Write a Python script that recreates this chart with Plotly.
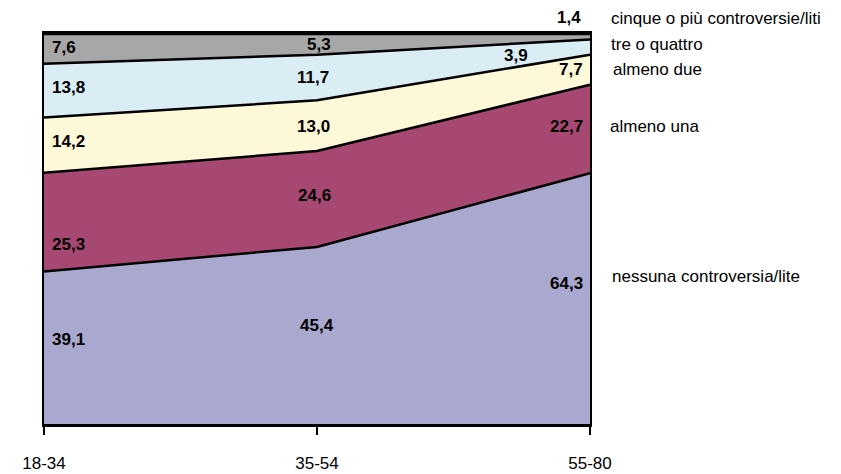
import plotly.graph_objects as go
import numpy as np

# Age groups and share of respondents (%) by number of disputes
age_groups = ["18-34", "35-54", "55-80"]
series_names = [
    "nessuna controversia/lite",
    "almeno una",
    "almeno due",
    "tre o quattro",
    "cinque o più controversie/liti",
]
nessuna = [39.1, 45.4, 64.3]
almeno_una = [25.3, 24.6, 22.7]
almeno_due = [14.2, 13.0, 7.7]
tre_quattro = [13.8, 11.7, 3.9]
cinque_piu = [7.6, 5.3, 1.4]

series_values = [nessuna, almeno_una, almeno_due, tre_quattro, cinque_piu]
fill_colors = ["#A9A9CF", "#A74872", "#FDF8D8", "#DAEDF4", "#A7A7A7"]

FONT = "Liberation Sans, Arial, sans-serif"
FS = 17

fig = go.Figure()
for name, vals, col in zip(series_names, series_values, fill_colors):
    fig.add_trace(go.Scatter(
        x=age_groups, y=vals, name=name, mode="lines",
        stackgroup="one", fillcolor=col,
        line=dict(color="black", width=2.5),
        hoverinfo="skip",
    ))

# value labels placed at the middle of each band
cum = np.zeros(len(age_groups))
label_shift = [  # (xshift, yshift) per series per group
    [(6, 8), (0, 10), (-5, 15)],
    [(6, -22), (-3, 3), (-5, 2)],
    [(6, 4), (-4, -1), (-5, 0)],
    [(6, 3), (-4, 0), (-60, -8)],
    [(6, 1), (2, 0), (-7, 19)],
]
anchors = ["left", "center", "right"]
for si, vals in enumerate(series_values):
    for gi, v in enumerate(vals):
        mid = cum[gi] + v / 2
        xs, ys = label_shift[si][gi]
        fig.add_annotation(
            x=age_groups[gi], y=mid, xref="x", yref="y",
            text=f"<b>{v:.1f}</b>".replace(".", ","),
            showarrow=False, xanchor=anchors[gi], yanchor="middle",
            xshift=xs, yshift=ys,
            font=dict(family=FONT, size=FS, color="black"),
        )
    cum = cum + np.array(vals)

# series names to the right of the plot (paper y: 0 = bottom, 1 = top of plot)
name_pos = [0.379, 0.764, 0.908, 0.974, 1.041]
name_dx = [20, 18, 21, 19, 19]
for name, yp, dx in zip(series_names, name_pos, name_dx):
    fig.add_annotation(
        x=1, y=yp, xref="paper", yref="paper", text=name, showarrow=False,
        xanchor="left", yanchor="middle", xshift=dx,
        font=dict(family=FONT, size=FS, color="black"),
    )

fig.update_layout(
    width=841, height=474,
    margin=dict(l=44, r=251, t=34, b=50),
    paper_bgcolor="white", plot_bgcolor="white",
    showlegend=False,
    font=dict(family=FONT, size=FS, color="black"),
    xaxis=dict(
        type="category", range=[0, 2], showgrid=False, zeroline=False,
        showline=True, linecolor="black", linewidth=3, mirror=True,
        ticks="outside", ticklen=8, tickwidth=2, tickcolor="black",
        ticklabelstandoff=14, automargin=False,
        tickfont=dict(family=FONT, size=FS, color="black"),
    ),
    yaxis=dict(
        range=[0, 100], showgrid=False, zeroline=False, automargin=False,
        showline=True, linecolor="black", linewidth=2, mirror=True,
        showticklabels=False, ticks="",
    ),
)

fig.write_html("out.html")
